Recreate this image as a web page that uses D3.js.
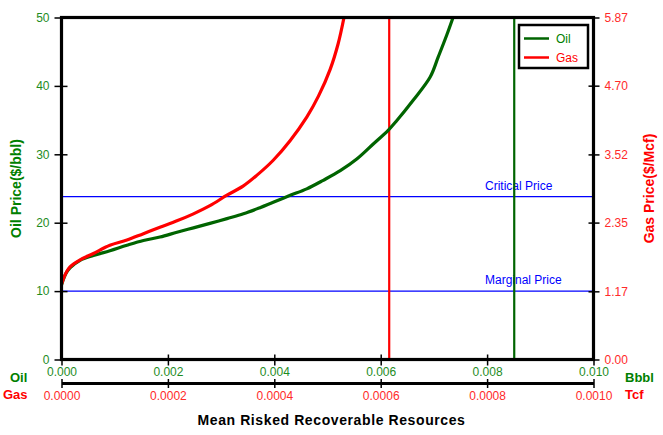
<!DOCTYPE html>
<html>
<head>
<meta charset="utf-8">
<script src="https://cdn.jsdelivr.net/npm/d3@7"></script>
<style>
  body { margin: 0; background: #fff; }
  svg { display: block; font-family: Arial, "Liberation Sans", sans-serif; }
</style>
</head>
<body>
<svg id="chart" width="663" height="435"></svg>
<script>
// ---- Data ----
// Oil curve: resources (Bbbl) vs oil price ($/bbl)
const oilX = [0, 0.00005, 0.0001, 0.00016, 0.00035, 0.0006, 0.00091, 0.00123, 0.00154, 0.00185, 0.00217, 0.00248, 0.00279, 0.00311, 0.00342, 0.00373, 0.00398, 0.0043, 0.00461, 0.00492, 0.00524, 0.00555, 0.00586, 0.00614, 0.0063, 0.00661, 0.00693, 0.00708, 0.00724, 0.00736];
const oilY = [10.9, 12.0, 12.8, 13.4, 14.5, 15.2, 15.9, 16.7, 17.4, 17.9, 18.6, 19.25, 19.9, 20.6, 21.3, 22.2, 23.0, 24.0, 24.95, 26.2, 27.6, 29.3, 31.5, 33.5, 34.9, 37.9, 41.3, 44.2, 47.4, 50];
// Gas curve: resources (Tcf) vs gas price ($/Mcf)
const gasX = [0, 0.000005, 0.00001, 0.000016, 0.000035, 0.00006, 0.000091, 0.000123, 0.000154, 0.000185, 0.000217, 0.000248, 0.000279, 0.000311, 0.000342, 0.000367, 0.000398, 0.00043, 0.000461, 0.000483, 0.000505, 0.00052, 0.000531];
const gasY = [1.29, 1.42, 1.51, 1.59, 1.71, 1.82, 1.96, 2.05, 2.16, 2.27, 2.38, 2.5, 2.64, 2.82, 2.98, 3.16, 3.42, 3.76, 4.16, 4.52, 4.98, 5.42, 5.87];
// Reference lines
const oilMeanLine = 0.00851;   // Bbbl (green vertical)
const gasMeanLine = 0.000616;  // Tcf (red vertical)
const priceLines = [{label: "Critical Price", value: 23.8}, {label: "Marginal Price", value: 10}];
// Ticks
const oilPriceTicks = [0, 10, 20, 30, 40, 50];
const gasPriceTicks = [0, 1.17, 2.35, 3.52, 4.70, 5.87];
const oilResTicks = [0, 0.002, 0.004, 0.006, 0.008, 0.010];
const gasResTicks = [0, 0.0002, 0.0004, 0.0006, 0.0008, 0.0010];
const legendItems = [{name: "Oil", color: "#006400", text: "#008000"}, {name: "Gas", color: "#ff0000", text: "#ff0000"}];

// ---- Layout ----
const L = 61.5, R = 593.5, T = 17.5, B = 359.5, GB = 383;
const svg = d3.select("#chart");
const GREEN = "#006400", GREENT = "#1e8c1e", RED = "#ff0000", REDT = "#ff2a2a";

const xOil = d3.scaleLinear().domain([0, 0.010]).range([L, R]);
const xGas = d3.scaleLinear().domain([0, 0.0010]).range([L, R]);
const yOil = d3.scaleLinear().domain([0, 50]).range([B, T]);
const yGas = d3.scaleLinear().domain([0, 5.87]).range([B, T]);

// Horizontal price lines
const pl = svg.append("g");
priceLines.forEach(p => {
  pl.append("line").attr("x1", L).attr("x2", R)
    .attr("y1", yOil(p.value)).attr("y2", yOil(p.value))
    .attr("stroke", "#0000ff").attr("stroke-width", 1.2);
  pl.append("text").attr("x", 485).attr("y", yOil(p.value) - 7)
    .attr("fill", "#0000ff").attr("font-size", 12).text(p.label);
});

// Vertical mean lines
svg.append("line").attr("x1", xOil(oilMeanLine)).attr("x2", xOil(oilMeanLine))
  .attr("y1", T).attr("y2", B).attr("stroke", GREEN).attr("stroke-width", 2.2);
svg.append("line").attr("x1", xGas(gasMeanLine)).attr("x2", xGas(gasMeanLine))
  .attr("y1", T).attr("y2", B).attr("stroke", RED).attr("stroke-width", 2.2);

// Curves
const oilLine = d3.line().x(d => xOil(d[0])).y(d => yOil(d[1])).curve(d3.curveCatmullRom.alpha(0.5));
const gasLine = d3.line().x(d => xGas(d[0])).y(d => yGas(d[1])).curve(d3.curveCatmullRom.alpha(0.5));
svg.append("path").datum(oilX.map((x, i) => [x, oilY[i]]))
  .attr("d", oilLine).attr("fill", "none").attr("stroke", GREEN).attr("stroke-width", 3.2);
svg.append("path").datum(gasX.map((x, i) => [x, gasY[i]]))
  .attr("d", gasLine).attr("fill", "none").attr("stroke", RED).attr("stroke-width", 3.2);

// Frame
svg.append("rect").attr("x", L).attr("y", T).attr("width", R - L).attr("height", B - T)
  .attr("fill", "none").attr("stroke", "#000").attr("stroke-width", 3.2);

// Left axis
const leftAx = svg.append("g").attr("transform", `translate(${L},0)`)
  .call(d3.axisLeft(yOil).tickValues(oilPriceTicks).tickSizeInner(7).tickSizeOuter(0).tickPadding(7).tickFormat(d3.format("d")));
leftAx.select(".domain").remove();
leftAx.selectAll(".tick line").attr("x2", 6).attr("x1", -7).attr("stroke", "#000").attr("stroke-width", 1.5);
leftAx.selectAll(".tick text").attr("x", -12).attr("fill", GREENT).attr("font-size", 12).attr("font-family", "Arial, 'Liberation Sans', sans-serif");

// Right axis
const rightAx = svg.append("g").attr("transform", `translate(${R},0)`)
  .call(d3.axisRight(yGas).tickValues(gasPriceTicks).tickSizeOuter(0).tickFormat(d3.format(".2f")));
rightAx.select(".domain").remove();
rightAx.selectAll(".tick line").attr("x1", -5).attr("x2", 6).attr("stroke", "#000").attr("stroke-width", 1.5);
rightAx.selectAll(".tick text").attr("x", 11).attr("fill", REDT).attr("font-size", 12).attr("font-family", "Arial, 'Liberation Sans', sans-serif");

// Bottom oil axis
const oilAx = svg.append("g").attr("transform", `translate(0,${B})`)
  .call(d3.axisBottom(xOil).tickValues(oilResTicks).tickSizeOuter(0).tickFormat(d3.format(".3f")));
oilAx.select(".domain").remove();
oilAx.selectAll(".tick line").attr("y1", -5).attr("y2", 6).attr("stroke", "#000").attr("stroke-width", 1.5);
oilAx.selectAll(".tick text").attr("y", 8).attr("fill", GREENT).attr("font-size", 12).attr("font-family", "Arial, 'Liberation Sans', sans-serif");

// Bottom gas axis
const gasAx = svg.append("g").attr("transform", `translate(0,${GB})`)
  .call(d3.axisBottom(xGas).tickValues(gasResTicks).tickSizeOuter(0).tickFormat(d3.format(".4f")));
gasAx.select(".domain").attr("stroke", "#000").attr("stroke-width", 3.2);
gasAx.selectAll(".tick line").attr("y1", -4).attr("y2", 5).attr("stroke", "#000").attr("stroke-width", 1.5);
gasAx.selectAll(".tick text").attr("y", 8).attr("fill", REDT).attr("font-size", 12).attr("font-family", "Arial, 'Liberation Sans', sans-serif");

// Axis titles
svg.append("text").attr("transform", `translate(21,${(T + B) / 2}) rotate(-90)`)
  .attr("text-anchor", "middle").attr("fill", "#008000").attr("font-weight", "bold").attr("font-size", 14)
  .text("Oil Price($/bbl)");
svg.append("text").attr("transform", `translate(654,${(T + B) / 2}) rotate(-90)`)
  .attr("text-anchor", "middle").attr("fill", RED).attr("font-weight", "bold").attr("font-size", 14)
  .text("Gas Price($/Mcf)");
svg.append("text").attr("x", (L + R) / 2 + 4).attr("y", 425)
  .attr("text-anchor", "middle").attr("fill", "#000").attr("font-weight", "bold").attr("font-size", 14)
  .attr("letter-spacing", 0.6)
  .text("Mean Risked Recoverable Resources");
svg.append("text").attr("x", 10).attr("y", 382).attr("fill", "#008000").attr("font-weight", "bold").attr("font-size", 13).text("Oil");
svg.append("text").attr("x", 3).attr("y", 399).attr("fill", RED).attr("font-weight", "bold").attr("font-size", 13).text("Gas");
svg.append("text").attr("x", 625).attr("y", 382).attr("fill", "#008000").attr("font-weight", "bold").attr("font-size", 13).text("Bbbl");
svg.append("text").attr("x", 625).attr("y", 399).attr("fill", RED).attr("font-weight", "bold").attr("font-size", 13).text("Tcf");

// Legend
const lg = svg.append("g");
lg.append("rect").attr("x", 519).attr("y", 25).attr("width", 69).attr("height", 43)
  .attr("fill", "#fff").attr("stroke", "#000").attr("stroke-width", 2.5);
legendItems.forEach((d, i) => {
  const yy = 38.5 + i * 19;
  lg.append("line").attr("x1", 524).attr("x2", 549).attr("y1", yy).attr("y2", yy)
    .attr("stroke", d.color).attr("stroke-width", 2.5);
  lg.append("text").attr("x", 556).attr("y", yy + 4.5).attr("fill", d.text).attr("font-size", 12).text(d.name);
});
</script>
</body>
</html>
